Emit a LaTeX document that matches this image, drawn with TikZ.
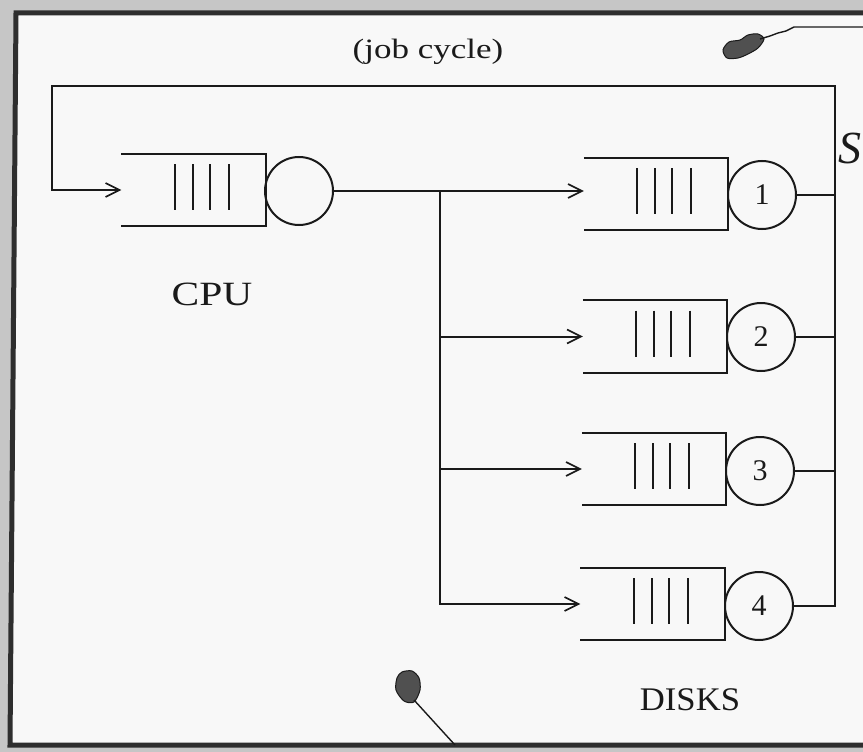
\documentclass[tikz,border=0pt]{standalone}
\usepackage{fontspec}
\setmainfont{Liberation Serif}
\usetikzlibrary{arrows.meta,calc}
\definecolor{bgout}{HTML}{C6C6C6}
\definecolor{paper}{HTML}{F8F8F8}
\definecolor{ink}{HTML}{1A1A1A}
\definecolor{frame}{HTML}{2E2E2E}
\definecolor{blob}{HTML}{505050}
\newcommand\qdraw[1]{%
  \draw[ln] (#1.north west) -- (#1.north east) -- (#1.south east) -- (#1.south west);
  \foreach \d in {-19,-1,16,35} {\draw[ln] ($(#1.center)+(\d,-26)$) -- ($(#1.center)+(\d,20)$);}
}
\begin{document}
\begin{tikzpicture}[x=1pt,y=-1pt,
  ln/.style={line width=2pt,draw=ink},
  arr/.style={ln,-{Straight Barb[length=14pt,width=14pt,line width=1.6pt]}},
  qbox/.style={rectangle,minimum width=144pt,minimum height=72pt,inner sep=0pt},
  srv/.style={circle,draw=ink,line width=2pt,minimum size=68pt,inner sep=0pt,text=ink,font=\fontsize{30}{34}\selectfont},
  lbl/.style={inner sep=0pt,text=ink}]
\useasboundingbox (0,0) rectangle (863,752);
\fill[bgout] (0,0) rectangle (863,752);
\path[fill=paper,draw=frame,line width=5pt] (16,13) -- (880,13) -- (880,745) -- (10,745) -- cycle;

% labels
\node[lbl,xscale=1.25,font=\fontsize{28}{32}\selectfont] (jc) at (428,52) {(job cycle)};
\node[lbl,xscale=1.22,font=\fontsize{34}{38}\selectfont] (cpulbl) at (212,294) {CPU};
\node[lbl,xscale=1.05,font=\fontsize{33}{38}\selectfont] (disks) at (690,700) {DISKS};
\node[lbl,anchor=base west,font=\itshape\fontsize{46}{52}\selectfont] (S) at (838,163) {S};

% queues and servers
\node[qbox] (cq) at (193.5,190) {};
\node[srv] (cpu) at (299,191) {};
\node[qbox] (q1) at (656,194) {};
\node[srv] (s1) at (762,195) {1};
\node[qbox] (q2) at (655,336.5) {};
\node[srv] (s2) at (761,337) {2};
\node[qbox] (q3) at (654,469) {};
\node[srv] (s3) at (760,471) {3};
\node[qbox] (q4) at (652.5,604) {};
\node[srv] (s4) at (759,606) {4};
\qdraw{cq}
\qdraw{q1}
\qdraw{q2}
\qdraw{q3}
\qdraw{q4}

% routing
\coordinate (sp) at (440,191);
\coordinate (rt) at (835,86);
\coordinate (lt) at (52,86);
\draw[arr] (cpu.east) -- (cpu.east -| q1.west);
\draw[arr] (sp) |- (q2.west);
\draw[arr] (sp) |- (q3.west);
\draw[arr] (sp) |- (q4.west);
\draw[ln] (s1.east) -- (s1.east -| rt);
\draw[ln] (s2.east) -- (s2.east -| rt);
\draw[ln] (s3.east) -- (s3.east -| rt);
\draw[arr] (s4.east) -- (s4.east -| rt) -- (rt) -- (lt) |- (cq.west);

% blobs
\filldraw[fill=blob,draw=ink,line width=1pt] plot[smooth cycle] coordinates {(723,50) (729,42) (740,40) (748,35) (758,34) (764,39) (758,48) (748,54) (738,58) (727,58)};
\draw[ink,line width=1.4pt] (760,39) -- (770,36) -- (778,33) -- (786,31) -- (794,27) -- (870,27);
\filldraw[fill=blob,draw=ink,line width=1pt] plot[smooth cycle] coordinates {(397,678) (402,672) (412,671) (419,678) (420,690) (414,702) (404,701) (396,690)};
\draw[ink,line width=1.4pt] (414,700) -- (455,745);
\end{tikzpicture}
\end{document}
